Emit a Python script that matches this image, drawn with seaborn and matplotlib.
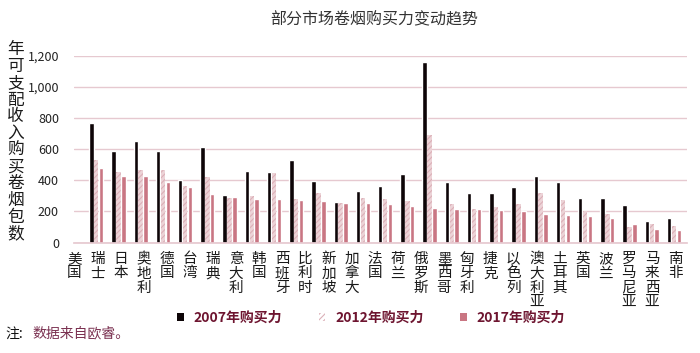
import matplotlib
matplotlib.use("Agg")
import matplotlib.pyplot as plt
from matplotlib.patches import Patch
import matplotlib.ticker as mticker
import seaborn as sns
import pandas as pd
import numpy as np

countries = ["美国", "瑞士", "日本", "奥地利", "德国", "台湾", "瑞典", "意大利", "韩国",
             "西班牙", "比利时", "新加坡", "加拿大", "法国", "荷兰", "俄罗斯", "墨西哥",
             "匈牙利", "捷克", "以色列", "澳大利亚", "土耳其", "英国", "波兰", "罗马尼亚",
             "马来西亚", "南非"]
v2007 = [770, 585, 655, 587, 404, 613, 306, 457, 451, 530, 398, 260, 330, 360, 443,
         1158, 387, 321, 317, 357, 430, 392, 285, 289, 243, 138, 157]
v2012 = [532, 451, 464, 468, 362, 421, 289, 302, 447, 279, 319, 251, 289, 281, 268,
         694, 245, 217, 228, 249, 321, 272, 200, 185, 100, 117, 109]
v2017 = [481, 426, 426, 387, 355, 311, 292, 279, 279, 270, 266, 253, 251, 247, 234,
         223, 215, 215, 209, 204, 183, 174, 172, 160, 121, 85, 81]
series = ["2007年购买力", "2012年购买力", "2017年购买力"]
yticks = [0, 200, 400, 600, 800, 1000, 1200]
title = "部分市场卷烟购买力变动趋势"
ylabel = "年可支配收入购买卷烟包数"
note_a = "注:"
note_b = "数据来自欧睿。"

df = pd.DataFrame({
    "country": countries * 3,
    "value": v2007 + v2012 + v2017,
    "year": [series[0]] * len(countries) + [series[1]] * len(countries) + [series[2]] * len(countries),
})

sns.set_theme(style="white")
FAM = ["Noto Sans CJK SC", "DejaVu Sans"]
plt.rcParams["font.family"] = FAM
plt.rcParams["hatch.linewidth"] = 0.8

c07, c12, c17 = "#0d0507", "#ecd3d7", "#c97683"
hatch_col = "#dcb0b8"
maroon = "#6e1530"

fig = plt.figure(figsize=(7.0, 3.53), dpi=100)
ax = fig.add_axes([0.106, 0.313, 0.875, 0.529])

sns.barplot(data=df, x="country", y="value", hue="year", order=countries,
            hue_order=series, palette=[c07, c12, c17], width=0.66, gap=0.08,
            saturation=1, legend=False, ax=ax, errorbar=None)

for bar in ax.containers[1]:
    bar.set_hatch("//////")
    bar.set_edgecolor(hatch_col)
    bar.set_linewidth(0)

ax.set_ylim(0, 1200)
ax.set_xlim(-0.5, 26.57)
ax.set_yticks(yticks)
ax.yaxis.set_major_formatter(mticker.FuncFormatter(lambda v, p: f"{int(v):,}"))
ax.grid(axis="y", color="#e6c9d0", linewidth=1)
ax.set_axisbelow(True)
for s in ["top", "right", "left"]:
    ax.spines[s].set_visible(False)
ax.spines["bottom"].set_color("#e6c9d0")
ax.tick_params(axis="y", length=0, labelsize=9, labelcolor="#222222", pad=11)
ax.tick_params(axis="x", length=0, pad=7)

pos = np.linspace(-0.99, 26.05, len(countries))
ax.set_xticks(pos)
ax.set_xticklabels(["\n".join(c) for c in countries], fontsize=10.5, color="#1a1a1a",
                   linespacing=1.02, va="top")
ax.set_xlabel("")
ax.set_ylabel("")

fig.text(0.022, 0.598, "\n".join(ylabel), fontsize=12, color="#1a1a1a",
         ha="center", va="center", linespacing=0.98, family=FAM)
fig.text(0.535, 0.945, title, fontsize=11.5, color="#333333", ha="center", va="center",
         family=FAM)

handles = [
    Patch(facecolor=c07, edgecolor="none"),
    Patch(facecolor="white", edgecolor=hatch_col, hatch="//////", linewidth=0),
    Patch(facecolor=c17, edgecolor="none"),
]
leg = fig.legend(handles, series, loc="center", bbox_to_anchor=(0.53, 0.10), ncol=3,
                 frameon=False, handlelength=0.5, handleheight=0.5, handletextpad=0.7,
                 columnspacing=2.6, prop={"family": FAM, "size": 10, "weight": "bold"})
for t in leg.get_texts():
    t.set_color(maroon)

fig.text(0.008, 0.055, note_a, fontsize=10, style="italic", color="#111111",
         ha="left", va="center", family=FAM)
fig.text(0.046, 0.055, note_b, fontsize=10, style="italic", color="#7a3050",
         ha="left", va="center", family=FAM)

fig.savefig("out.png", dpi=100)
